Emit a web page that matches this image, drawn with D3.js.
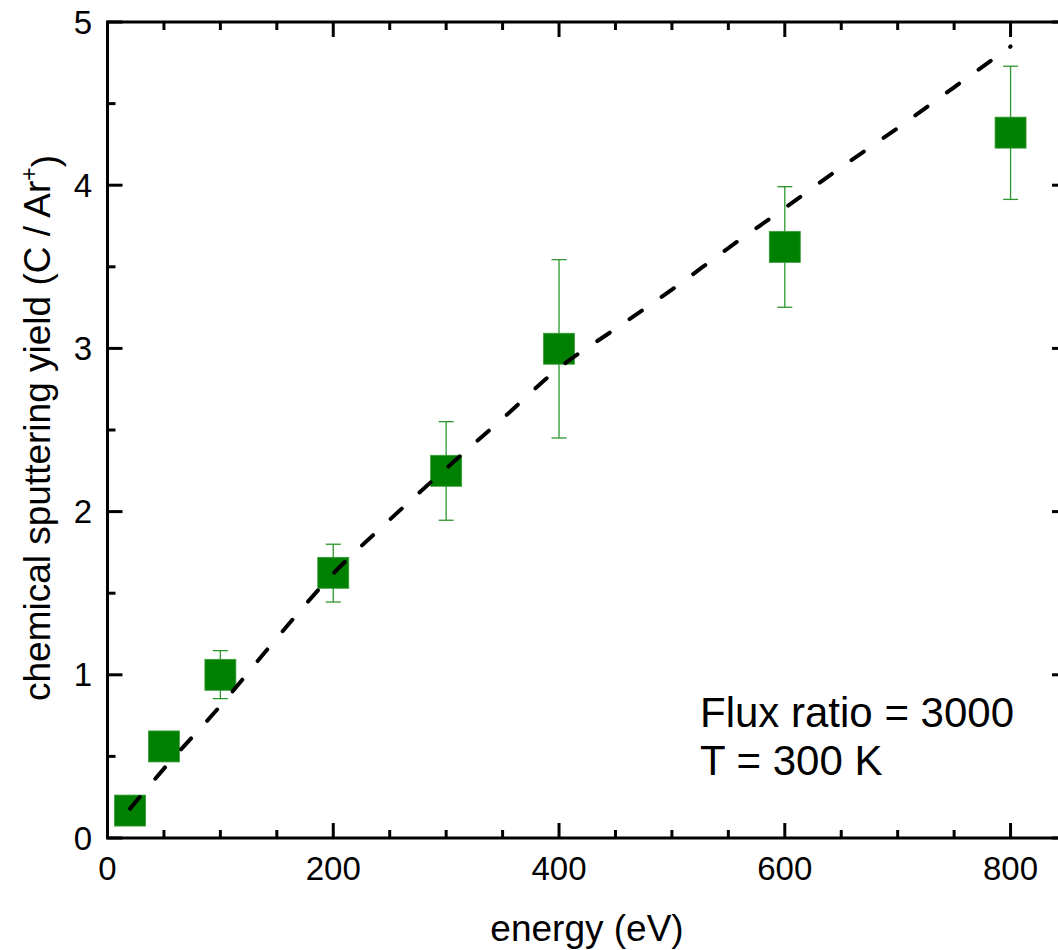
<!DOCTYPE html>
<html>
<head>
<meta charset="utf-8">
<script src="https://cdn.jsdelivr.net/npm/d3@7"></script>
<style>
  html, body { margin: 0; padding: 0; background: #fff; }
  svg { display: block; font-family: "Liberation Sans", Arial, sans-serif; }
</style>
</head>
<body>
<svg id="chart" width="1058" height="950"></svg>
<script>
// ---- data ----
const energy = [20, 50, 100, 200, 300, 400, 600, 800];
const yieldVals = [0.168, 0.561, 1.0, 1.625, 2.25, 2.998, 3.622, 4.322];
const errLow  = [null, null, 0.854, 1.446, 1.947, 2.451, 3.252, 3.913];
const errHigh = [null, null, 1.148, 1.80, 2.551, 3.544, 3.991, 4.729];

const fitEnergy = [20, 50, 100, 150, 200, 250, 300, 350, 400, 450, 500, 550, 600, 650, 700, 750, 800];
const fitYield  = [0.18, 0.425, 0.81, 1.225, 1.62, 1.95, 2.265, 2.57, 2.88, 3.12, 3.36, 3.615, 3.86, 4.11, 4.35, 4.60, 4.85];

const xTicks = [0, 200, 400, 600, 800];
const xMinor = [50, 100, 150, 250, 300, 350, 450, 500, 550, 650, 700, 750];
const yTicks = [0, 1, 2, 3, 4, 5];
const yMinor = [0.5, 1.5, 2.5, 3.5, 4.5];

const xTitle = "energy (eV)";
const annot = ["Flux ratio = 3000", "T = 300 K"];

// ---- layout ----
const svg = d3.select("#chart");
const pL = 107.5, pR = 1067, pT = 22, pB = 838;
const x = d3.scaleLinear().domain([0, 850]).range([pL, pR]);
const y = d3.scaleLinear().domain([0, 5]).range([pB, pT]);

const green = "#008000";
const errColor = "#2f962f";
const majorLen = 15, minorLen = 8;

// error bars
const pts = energy.map((e, i) => ({e, v: yieldVals[i], lo: errLow[i], hi: errHigh[i]}));
const eb = svg.append("g");
pts.filter(d => d.lo !== null).forEach(d => {
  eb.append("line").attr("x1", x(d.e)).attr("x2", x(d.e)).attr("y1", y(d.lo)).attr("y2", y(d.hi))
    .attr("stroke", errColor).attr("stroke-width", 1.3);
  [d.lo, d.hi].forEach(v => {
    eb.append("line").attr("x1", x(d.e) - 7.5).attr("x2", x(d.e) + 7.5).attr("y1", y(v)).attr("y2", y(v))
      .attr("stroke", errColor).attr("stroke-width", 1.3);
  });
});

// squares
const sz = 31;
svg.append("g").selectAll("rect").data(pts).join("rect")
  .attr("x", d => x(d.e) - sz / 2).attr("y", d => y(d.v) - sz / 2)
  .attr("width", sz).attr("height", sz)
  .attr("fill", green).attr("stroke", "#3a9e3a").attr("stroke-width", 0.8);

// dashed fit curve
const line = d3.line().x((d, i) => x(fitEnergy[i])).y(d => y(d)).curve(d3.curveMonotoneX);
svg.append("path").attr("d", line(fitYield))
  .attr("fill", "none").attr("stroke", "#000").attr("stroke-width", 4)
  .attr("stroke-dasharray", "15,24").attr("stroke-linecap", "round");

// axes (frame + ticks)
const ax = svg.append("g").attr("stroke", "#000").attr("stroke-width", 3);
ax.append("rect").attr("x", pL).attr("y", pT).attr("width", pR - pL).attr("height", pB - pT)
  .attr("fill", "none");
xTicks.forEach(t => {
  ax.append("line").attr("x1", x(t)).attr("x2", x(t)).attr("y1", pB).attr("y2", pB - majorLen);
  ax.append("line").attr("x1", x(t)).attr("x2", x(t)).attr("y1", pT).attr("y2", pT + majorLen);
});
xMinor.forEach(t => {
  ax.append("line").attr("x1", x(t)).attr("x2", x(t)).attr("y1", pB).attr("y2", pB - minorLen);
  ax.append("line").attr("x1", x(t)).attr("x2", x(t)).attr("y1", pT).attr("y2", pT + minorLen);
});
yTicks.forEach(t => {
  ax.append("line").attr("x1", pL).attr("x2", pL + majorLen).attr("y1", y(t)).attr("y2", y(t));
  ax.append("line").attr("x1", pR).attr("x2", pR - majorLen).attr("y1", y(t)).attr("y2", y(t));
});
yMinor.forEach(t => {
  ax.append("line").attr("x1", pL).attr("x2", pL + minorLen).attr("y1", y(t)).attr("y2", y(t));
  ax.append("line").attr("x1", pR).attr("x2", pR - minorLen).attr("y1", y(t)).attr("y2", y(t));
});

// tick labels
svg.append("g").selectAll("text").data(xTicks).join("text")
  .attr("x", d => x(d)).attr("y", 880).attr("text-anchor", "middle")
  .attr("font-size", 33).attr("fill", "#000").text(d => d);
svg.append("g").selectAll("text").data(yTicks).join("text")
  .attr("x", 92).attr("y", d => y(d)).attr("dy", "0.35em").attr("text-anchor", "end")
  .attr("font-size", 33).attr("fill", "#000").text(d => d);

// axis titles
svg.append("text").attr("x", 587).attr("y", 941).attr("text-anchor", "middle")
  .attr("font-size", 37).attr("fill", "#000").text(xTitle);
const yt = svg.append("text").attr("transform", "translate(50,428) rotate(-90)")
  .attr("text-anchor", "middle").attr("font-size", 37).attr("fill", "#000");
yt.append("tspan").text("chemical sputtering yield (C / Ar");
yt.append("tspan").attr("dy", "-0.55em").attr("font-size", 23).text("+");
yt.append("tspan").attr("dy", "0.55em").text(")");

// annotation
svg.append("g").selectAll("text").data(annot).join("text")
  .attr("x", 700).attr("y", (d, i) => 727 + i * 48)
  .attr("font-size", 42).attr("fill", "#000").text(d => d);
</script>
</body>
</html>
